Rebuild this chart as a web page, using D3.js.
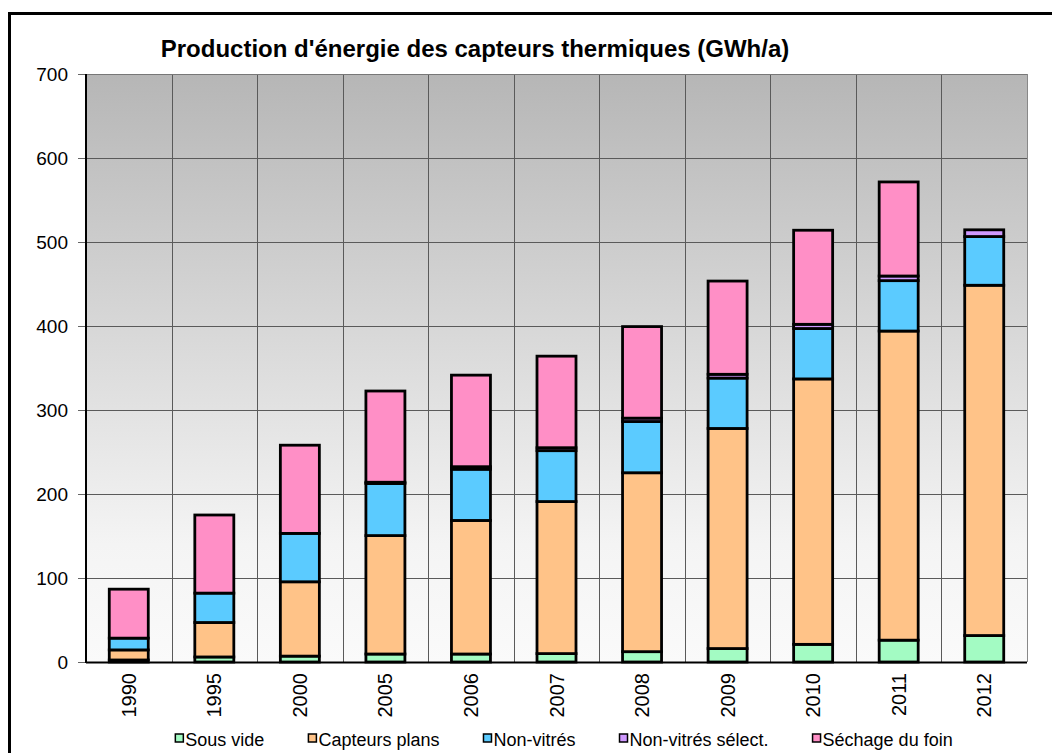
<!DOCTYPE html>
<html>
<head>
	<meta charset="utf-8">
	<title>Production d'énergie des capteurs thermiques</title>
	<style>
		body {
			margin: 0;
			background: #fff;
		}
		svg text {
			font-family: "Liberation Sans", Arial, sans-serif;
			fill: #000;
		}
		.grid line {
			stroke: #5a5a5a;
			stroke-width: 1px;
		}
		.bar {
			stroke: #000;
			stroke-width: 2.8px;
		}
	</style>
</head>
<body>
	<div id="chart"></div>
	<script src="https://cdn.jsdelivr.net/npm/d3@7/dist/d3.min.js"></script>
	<script>
		// values (GWh/a)
		var years = ['1990', '1995', '2000', '2005', '2006', '2007', '2008', '2009', '2010', '2011', '2012'];
		var sousVide       = [2.4, 6, 7, 9.5, 9.5, 10, 12.3, 16, 21, 26, 31.5];
		var capteursPlans  = [12, 41, 88.5, 141, 159, 181, 213, 262, 316, 368, 417];
		var nonVitres      = [14, 35, 57.6, 62, 61, 60.6, 61, 60, 60, 60, 58];
		var nonVitresSel   = [0, 0, 0, 1.5, 3, 3.5, 4, 4.5, 5, 5.5, 8];
		var sechageFoin    = [58.3, 93, 105, 108.6, 109, 109, 109, 111, 112, 112, 0];

		var seriesNames  = ['Sous vide', 'Capteurs plans', 'Non-vitrés', 'Non-vitrés sélect.', 'Séchage du foin'];
		var seriesColors = ['#a3fbc3', '#ffc388', '#5bcbff', '#cf99ff', '#ff8fc6'];
		var yTicks = [0, 100, 200, 300, 400, 500, 600, 700];
		var title = "Production d'énergie des capteurs thermiques (GWh/a)";

		(function bootstrap() {

			var width = 1052, height = 753;
			var plot = { left: 86, top: 74, right: 1027, bottom: 662 };

			var svg = d3.select('#chart')
							.append('svg')
							.attr('width', width)
							.attr('height', height);

			// outer frame (only top and left are visible in the picture)
			svg.append('rect')
				.attr('x', 9.5)
				.attr('y', 13.5)
				.attr('width', 1200)
				.attr('height', 1000)
				.attr('fill', 'none')
				.attr('stroke', '#000')
				.attr('stroke-width', 3);

			// plot background gradient
			var grad = svg.append('defs')
							.append('linearGradient')
							.attr('id', 'bg')
							.attr('x1', 0).attr('y1', 0)
							.attr('x2', 0).attr('y2', 1);
			grad.append('stop').attr('offset', '0%').attr('stop-color', '#b6b6b6');
			grad.append('stop').attr('offset', '80%').attr('stop-color', '#f4f4f4');
			grad.append('stop').attr('offset', '100%').attr('stop-color', '#fafafa');

			var x = d3.scaleBand()
							.domain(years)
							.range([plot.left, plot.right])
							.paddingInner(0)
							.paddingOuter(0);

			var y = d3.scaleLinear()
							.domain([0, 700])
							.range([plot.bottom, plot.top]);

			svg.append('rect')
				.attr('x', plot.left)
				.attr('y', plot.top)
				.attr('width', plot.right - plot.left)
				.attr('height', plot.bottom - plot.top)
				.attr('fill', 'url(#bg)');

			// horizontal grid
			var grid = svg.append('g').attr('class', 'grid');
			grid.selectAll('line.h')
				.data(yTicks.filter(function (d) { return d > 0; }))
				.enter()
				.append('line')
				.attr('class', 'h')
				.attr('x1', plot.left)
				.attr('x2', plot.right)
				.attr('y1', function (d) { return Math.round(y(d)) + 0.5; })
				.attr('y2', function (d) { return Math.round(y(d)) + 0.5; });

			// vertical grid on category boundaries
			grid.selectAll('line.v')
				.data(years.slice(1))
				.enter()
				.append('line')
				.attr('class', 'v')
				.attr('x1', function (d) { return Math.round(x(d)) + 0.5; })
				.attr('x2', function (d) { return Math.round(x(d)) + 0.5; })
				.attr('y1', plot.top)
				.attr('y2', plot.bottom);

			// right edge of plot
			svg.append('line')
				.attr('x1', plot.right + 0.5).attr('x2', plot.right + 0.5)
				.attr('y1', plot.top).attr('y2', plot.bottom)
				.attr('stroke', '#888');

			// stacked data
			var table = years.map(function (yr, i) {
				return {
					year: yr,
					s0: sousVide[i],
					s1: capteursPlans[i],
					s2: nonVitres[i],
					s3: nonVitresSel[i],
					s4: sechageFoin[i]
				};
			});
			var keys = ['s0', 's1', 's2', 's3', 's4'];
			var stack = d3.stack().keys(keys)(table);

			var barW = 39;
			var layers = svg.append('g')
							.selectAll('g')
							.data(stack)
							.enter()
							.append('g')
							.attr('fill', function (d, i) { return seriesColors[i]; });

			layers.selectAll('rect')
				.data(function (d) { return d.filter(function (p) { return p[1] - p[0] > 0; }); })
				.enter()
				.append('rect')
				.attr('class', 'bar')
				.attr('x', function (d) { return x(d.data.year) + x.bandwidth() / 2 - barW / 2; })
				.attr('width', barW)
				.attr('y', function (d) { return y(d[1]); })
				.attr('height', function (d) { return y(d[0]) - y(d[1]); });

			// y axis
			var yAxis = svg.append('g')
							.attr('transform', 'translate(' + plot.left + ',0)')
							.call(d3.axisLeft(y).tickValues(yTicks).tickSize(8).tickPadding(10));
			yAxis.select('.domain').remove();
			yAxis.selectAll('.tick line').attr('stroke', '#666');
			yAxis.selectAll('text')
				.style('font-size', '19px')
				.attr('fill', '#000');

			svg.append('line')
				.attr('x1', plot.left).attr('x2', plot.right)
				.attr('y1', plot.top + 0.5).attr('y2', plot.top + 0.5)
				.attr('stroke', '#777');

			svg.append('line')
				.attr('x1', plot.left).attr('x2', plot.left)
				.attr('y1', plot.top).attr('y2', plot.bottom + 1)
				.attr('stroke', '#000').attr('stroke-width', 2);

			// x axis
			svg.append('line')
				.attr('x1', plot.left).attr('x2', plot.right)
				.attr('y1', plot.bottom + 0.5).attr('y2', plot.bottom + 0.5)
				.attr('stroke', '#000').attr('stroke-width', 2);

			svg.append('g')
				.selectAll('text')
				.data(years)
				.enter()
				.append('text')
				.attr('transform', function (d) {
					return 'translate(' + (x(d) + x.bandwidth() / 2) + ',' + (plot.bottom + 11) + ') rotate(-90)';
				})
				.attr('text-anchor', 'end')
				.attr('dy', '0.35em')
				.style('font-size', '20px')
				.text(function (d) { return d; });

			// title
			svg.append('text')
				.attr('x', 475)
				.attr('y', 57)
				.attr('text-anchor', 'middle')
				.style('font-size', '24px')
				.style('font-weight', 'bold')
				.text(title);

			// legend
			var legend = svg.append('g');
			var items = legend.selectAll('g')
							.data(seriesNames)
							.enter()
							.append('g');
			items.append('rect')
				.attr('width', 8)
				.attr('height', 8)
				.attr('y', -12)
				.attr('fill', function (d, i) { return seriesColors[i]; })
				.attr('stroke', '#000')
				.attr('stroke-width', 1.5);
			items.append('text')
				.attr('x', 10)
				.style('font-size', '18px')
				.text(function (d) { return d; });

			var pos = 0;
			var gap = 44;
			var offsets = [];
			items.each(function () {
				offsets.push(pos);
				pos += 10 + this.querySelector('text').getComputedTextLength() + gap;
			});
			var total = pos - gap;
			var start = 564 - total / 2;
			items.attr('transform', function (d, i) { return 'translate(' + (start + offsets[i]) + ',746)'; });

		})();
	</script>
</body>
</html>
